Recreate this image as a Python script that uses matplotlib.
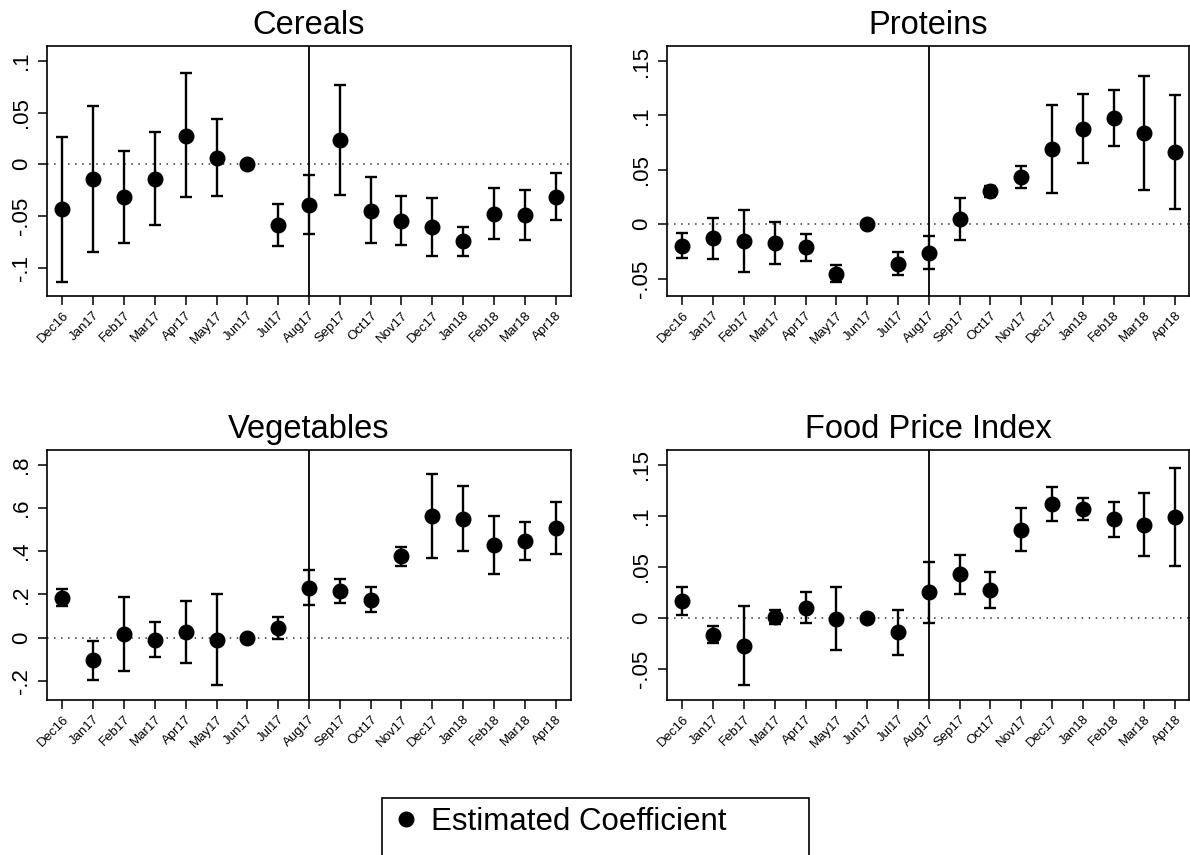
#!/usr/bin/env python
# -*- coding: utf-8 -*-

# == INCLUDE ==
import matplotlib
matplotlib.use("Agg")
import matplotlib.pyplot as plt
from matplotlib.lines import Line2D
from matplotlib.patches import Rectangle
import numpy as np

# == DATA ==
months = ["Dec16", "Jan17", "Feb17", "Mar17", "Apr17", "May17", "Jun17", "Jul17",
          "Aug17", "Sep17", "Oct17", "Nov17", "Dec17", "Jan18", "Feb18", "Mar18", "Apr18"]
event_month = "Aug17"

cereals_est = [-0.0435, -0.0145, -0.032, -0.0139, 0.0277, 0.0061, 0.0, -0.0587, -0.039,
               0.0235, -0.0448, -0.0545, -0.0603, -0.0745, -0.0477, -0.0494, -0.0313]
cereals_hi = [0.0268, 0.0565, 0.0132, 0.0316, 0.088, 0.0439, 0.0, -0.038, -0.0103,
              0.0771, -0.0126, -0.0306, -0.0323, -0.0606, -0.0229, -0.0245, -0.0084]
cereals_lo = [-0.1135, -0.0852, -0.0761, -0.0584, -0.0313, -0.031, 0.0, -0.0787, -0.0671,
              -0.0297, -0.0765, -0.0777, -0.0884, -0.089, -0.0726, -0.0735, -0.0539]

proteins_est = [-0.0196, -0.0129, -0.015, -0.0171, -0.0211, -0.0453, 0.0, -0.0367, -0.0263,
                0.0052, 0.0303, 0.0435, 0.0692, 0.0879, 0.098, 0.0839, 0.0664]
proteins_hi = [-0.0077, 0.0061, 0.0135, 0.0021, -0.0086, -0.0377, 0.0, -0.0257, -0.0107,
               0.0242, 0.0355, 0.0539, 0.1096, 0.1197, 0.1237, 0.1363, 0.1185]
proteins_lo = [-0.0312, -0.0315, -0.0441, -0.0361, -0.0337, -0.0527, 0.0, -0.0468, -0.041,
               -0.0141, 0.0254, 0.0334, 0.0291, 0.0563, 0.0723, 0.0312, 0.0144]

veg_est = [0.185, -0.105, 0.015, -0.011, 0.025, -0.009, 0.0, 0.045, 0.231,
           0.216, 0.176, 0.376, 0.563, 0.549, 0.429, 0.447, 0.509]
veg_hi = [0.225, -0.015, 0.188, 0.071, 0.168, 0.202, 0.0, 0.094, 0.314,
          0.273, 0.233, 0.418, 0.758, 0.700, 0.564, 0.533, 0.629]
veg_lo = [0.145, -0.194, -0.153, -0.091, -0.117, -0.219, 0.0, -0.005, 0.151,
          0.159, 0.119, 0.333, 0.368, 0.399, 0.296, 0.359, 0.388]

food_est = [0.0164, -0.0167, -0.0275, 0.0003, 0.0098, -0.001, 0.0, -0.0144, 0.0249,
            0.0429, 0.0269, 0.0865, 0.1114, 0.1071, 0.0966, 0.0911, 0.0989]
food_hi = [0.0305, -0.0082, 0.0115, 0.0072, 0.0249, 0.0301, 0.0, 0.0075, 0.0547,
           0.0619, 0.0445, 0.1074, 0.1281, 0.1179, 0.1137, 0.1225, 0.1471]
food_lo = [0.0026, -0.0249, -0.0662, -0.0066, -0.0052, -0.0318, 0.0, -0.0364, -0.0049,
           0.0233, 0.0095, 0.0655, 0.0947, 0.0963, 0.0793, 0.0603, 0.0511]

cereals_ticks = [-0.1, -0.05, 0.0, 0.05, 0.1]
cereals_ticklabels = ["-.1", "-.05", "0", ".05", ".1"]
proteins_ticks = [-0.05, 0.0, 0.05, 0.1, 0.15]
proteins_ticklabels = ["-.05", "0", ".05", ".1", ".15"]
veg_ticks = [-0.2, 0.0, 0.2, 0.4, 0.6, 0.8]
veg_ticklabels = ["-.2", "0", ".2", ".4", ".6", ".8"]
food_ticks = [-0.05, 0.0, 0.05, 0.1, 0.15]
food_ticklabels = ["-.05", "0", ".05", ".1", ".15"]

legend_label = "Estimated Coefficient"

# == CONFIG ==
plt.rcParams["font.family"] = ["Liberation Sans", "DejaVu Sans"]
W, H = 1190, 855


def fig_box(left, top, right, bottom):
    # pixel box -> figure fraction rect
    return [left / W, 1 - bottom / H, (right - left) / W, (bottom - top) / H]


# == FUNC ==
def draw_panel(ax, title, est, lo, hi, ticks, ticklabels, ylim, xmax=16.5):
    x = np.arange(len(months))
    est = np.array(est)
    yerr = [est - np.array(lo), np.array(hi) - est]
    ax.axhline(0, color="#333333", lw=1.1, ls=(0, (1, 3.6)), zorder=1)
    ax.axvline(months.index(event_month), color="black", lw=1.3, zorder=2)
    ax.errorbar(x, est, yerr=yerr, fmt="o", color="black", ms=10.5,
                elinewidth=1.7, capsize=4.3, capthick=1.7, zorder=3)
    ax.set_xlim(-0.5, xmax)
    ax.set_ylim(*ylim)
    ax.set_xticks(x)
    ax.set_xticklabels(months, rotation=45, ha="right", va="top",
                       rotation_mode="anchor", fontsize=9.5)
    ax.set_yticks(ticks)
    ax.set_yticklabels(ticklabels, rotation=90, va="center", fontsize=16)
    ax.tick_params(axis="both", length=6.5, width=1.1, color="black")
    ax.tick_params(axis="y", pad=4.5)
    ax.tick_params(axis="x", pad=3)
    for sp in ax.spines.values():
        sp.set_linewidth(1.2)
    ax.set_title(title, fontsize=23.5, pad=9)


# == BEGIN ==
fig = plt.figure(figsize=(W / 100, H / 100), dpi=100)

ax1 = fig.add_axes(fig_box(47, 46, 571, 296))
ax2 = fig.add_axes(fig_box(667, 46, 1189, 296))
ax3 = fig.add_axes(fig_box(47, 450, 571, 700))
ax4 = fig.add_axes(fig_box(667, 450, 1189, 700))

draw_panel(ax1, "Cereals", cereals_est, cereals_lo, cereals_hi,
           cereals_ticks, cereals_ticklabels, (-0.1275, 0.1145))
draw_panel(ax2, "Proteins", proteins_est, proteins_lo, proteins_hi,
           proteins_ticks, proteins_ticklabels, (-0.0659, 0.1638), xmax=16.45)
draw_panel(ax3, "Vegetables", veg_est, veg_lo, veg_hi,
           veg_ticks, veg_ticklabels, (-0.288, 0.868))
draw_panel(ax4, "Food Price Index", food_est, food_lo, food_hi,
           food_ticks, food_ticklabels, (-0.0809, 0.1647), xmax=16.45)

# -- legend (box runs off the bottom of the picture) --
fig.patches.append(Rectangle((382 / W, -0.05), (809 - 382) / W, 0.05 + 1 - 798 / H,
                             transform=fig.transFigure, fill=False,
                             edgecolor="black", lw=1.2, clip_on=False))
handle = Line2D([], [], marker="o", color="black", ls="none", ms=10.5)
fig.legend([handle], [legend_label], loc="center left",
           bbox_to_anchor=(375 / W, 1 - 822 / H), frameon=False,
           fontsize=22.5, handletextpad=0.3, borderpad=0, handlelength=1.0)

# -- OUT --
fig.savefig("out.png", dpi=100)
# EOF .
